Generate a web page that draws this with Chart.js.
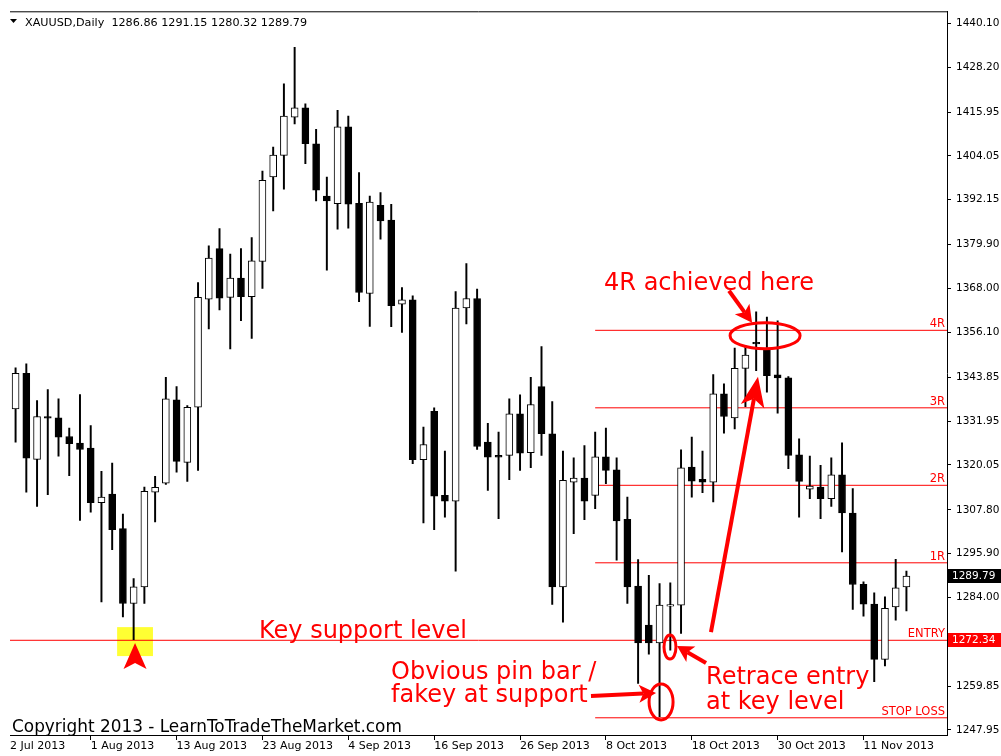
<!DOCTYPE html>
<html><head><meta charset="utf-8">
<script src="https://cdn.jsdelivr.net/npm/chart.js@4.4.1/dist/chart.umd.min.js"></script>
<style>html,body{margin:0;padding:0;background:#fff;}#wrap{width:1001px;height:756px;position:relative;}</style>
</head><body><div id="wrap"><canvas id="c"></canvas></div>
<script>
// ---------------- DATA ----------------
const symbolTitle = 'XAUUSD,Daily';
const lastOHLC = [1286.86, 1291.15, 1280.32, 1289.79];

const opens = [
1335.27,1344.93,1321.51,1333.18,1332.83,1327.75,1325.94,1324.58,1309.76,1312.10,
1302.70,1282.35,1286.86,1312.64,1315.08,1337.71,1320.70,1335.70,1365.12,1378.85,
1365.56,1370.82,1365.74,1375.32,1398.31,1404.20,1414.59,1417.11,1407.35,1393.15,
1391.06,1411.96,1391.17,1366.64,1390.63,1386.56,1363.76,1364.93,1321.43,1334.62,
1311.74,1310.19,1362.68,1365.28,1326.21,1322.60,1322.60,1333.91,1323.33,1341.32,
1328.49,1286.86,1315.35,1316.44,1311.74,1322.24,1318.71,1305.23,1287.05,1276.46,
1271.66,1281.62,1281.89,1319.42,1316.08,1315.35,1339.34,1332.83,1346.29,1353.34,
1351.69,1344.52,1343.68,1322.79,1313.45,1314.00,1310.85,1317.36,1306.94,1287.59,
1282.16,1267.16,1281.43,1286.86];
const highs = [
1346.40,1347.48,1337.52,1340.51,1337.98,1330.01,1339.15,1330.74,1318.25,1320.51,
1306.67,1289.14,1314.00,1316.90,1343.85,1341.32,1336.17,1369.63,1379.58,1384.28,
1377.33,1378.85,1381.84,1399.94,1406.45,1423.63,1433.59,1418.20,1411.25,1398.31,
1416.41,1414.86,1399.48,1393.15,1394.05,1390.90,1368.27,1366.02,1330.28,1335.54,
1323.76,1367.18,1374.78,1367.83,1331.36,1328.92,1337.98,1339.07,1343.85,1352.18,
1337.25,1323.76,1321.97,1325.31,1328.92,1330.06,1321.97,1311.28,1294.29,1290.03,
1287.78,1287.94,1324.14,1327.56,1323.76,1344.58,1342.05,1351.82,1352.45,1361.67,
1360.23,1359.23,1344.03,1327.13,1322.41,1319.88,1321.97,1326.04,1313.56,1288.22,
1285.23,1284.14,1294.37,1291.15];
const lows = [
1326.20,1312.64,1308.76,1311.93,1322.41,1317.09,1304.96,1307.21,1282.79,1297.01,
1278.72,1272.50,1282.35,1304.50,1314.73,1318.06,1315.54,1318.53,1356.98,1362.14,
1351.55,1359.23,1354.43,1368.00,1389.08,1394.97,1412.77,1401.92,1391.80,1372.99,
1384.12,1384.39,1364.39,1357.69,1381.40,1357.60,1356.06,1320.34,1304.22,1302.43,
1305.85,1291.12,1358.34,1324.22,1313.10,1305.42,1316.00,1318.53,1319.26,1322.60,
1282.08,1277.28,1301.35,1305.15,1308.13,1314.92,1294.10,1282.35,1260.64,1268.59,
1251.58,1269.68,1274.21,1311.28,1312.47,1309.93,1328.65,1329.84,1335.89,1345.66,
1339.77,1334.07,1318.99,1305.85,1310.85,1305.42,1308.76,1296.36,1280.72,1278.91,
1261.08,1265.34,1277.82,1280.32];
const closes = [
1344.93,1321.86,1333.18,1332.72,1327.56,1325.77,1324.22,1309.76,1311.28,1302.43,
1282.35,1286.86,1312.83,1313.91,1337.98,1320.97,1335.70,1365.56,1376.25,1365.39,
1370.82,1365.74,1375.51,1397.41,1404.28,1414.86,1417.11,1407.35,1394.70,1391.80,
1411.96,1390.90,1366.91,1391.52,1386.37,1363.30,1364.93,1321.43,1325.58,1311.55,
1310.19,1362.68,1365.28,1325.04,1322.14,1322.14,1333.91,1323.22,1336.44,1328.49,
1286.86,1315.81,1316.44,1310.19,1322.24,1318.53,1304.77,1286.86,1271.66,1271.66,
1281.89,1282.03,1319.26,1315.62,1315.35,1339.34,1333.18,1346.29,1349.92,1352.91,
1344.31,1343.68,1322.60,1315.54,1314.27,1310.85,1317.36,1306.94,1287.51,1282.16,
1267.16,1281.00,1286.59,1289.79];

const firstDateLabel = '2 Jul 2013';
const dateTickIndex = [7,15,23,31,39,47,55,63,71,79];
const dateTickLabels = ['1 Aug 2013','13 Aug 2013','23 Aug 2013','4 Sep 2013','16 Sep 2013',
  '26 Sep 2013','8 Oct 2013','18 Oct 2013','30 Oct 2013','11 Nov 2013'];
const priceTicks = [1440.10,1428.20,1415.95,1404.05,1392.15,1379.90,1368.00,1356.10,
  1343.85,1331.95,1320.05,1307.80,1295.90,1284.00,1259.85,1247.95];

const levelNames = ['4R','3R','2R','1R','ENTRY','STOP LOSS'];
const levelPrices = [1356.62,1335.55,1314.48,1293.41,1272.34,1251.27];
const entryPrice = 1272.34;
const rLevelStartIndex = 54;

// ---------------- CHART ----------------
Chart.defaults.font.family = "'DejaVu Sans', sans-serif";
const X_MIN = -0.52, X_MAX = 86.78;
const Y_MIN = 1246.59, Y_MAX = 1443.36;
const RED = '#ff0000';

const idx = opens.map((_, i) => i);
const wickData = idx.map(i => ({x: i, y: [lows[i], highs[i]]}));
const bodyData = idx.map(i => ({x: i, y: [opens[i], closes[i]]}));
const isBull = i => closes[i] >= opens[i];

const levelDatasets = levelNames.map((name, k) => ({
  type: 'line',
  data: [{x: levelPrices[k] === entryPrice ? X_MIN : rLevelStartIndex, y: levelPrices[k]}, {x: X_MAX, y: levelPrices[k]}],
  borderColor: RED, borderWidth: 1, pointRadius: 0, order: 3, clip: 0
}));

function arrow(ctx, x1, y1, x2, y2, lw, hl, hw) {
  const a = Math.atan2(y2 - y1, x2 - x1), c = Math.cos(a), s = Math.sin(a);
  const bx = x2 - c * hl, by = y2 - s * hl;
  const nx = x2 - c * hl * 0.75, ny = y2 - s * hl * 0.75;
  ctx.beginPath(); ctx.moveTo(x1, y1); ctx.lineTo(nx, ny); ctx.lineWidth = lw; ctx.stroke();
  ctx.beginPath(); ctx.moveTo(x2, y2);
  ctx.lineTo(bx - s * hw, by + c * hw); ctx.lineTo(nx, ny); ctx.lineTo(bx + s * hw, by - c * hw);
  ctx.closePath(); ctx.fill();
}

const notes = {
  texts: [
    ['4R achieved here', 54.83, 1367.64], ['Key support level', 22.68, 1272.94],
    ['Obvious pin bar /', 34.98, 1261.81], ['fakey at support', 34.98, 1255.57],
    ['Retrace entry', 64.33, 1260.45], ['at key level', 64.33, 1253.66]
  ],
  ellipses: [[69.83, 1355.16, 35, 13], [60.97, 1270.49, 6, 12], [60.14, 1255.57, 12, 18]],
  arrows: [
    [66.47, 1367.37, 68.62, 1358.69, 4, 17, 9],
    [64.79, 1274.56, 69.17, 1344.0, 4, 30, 12],
    [64.33, 1266.15, 61.63, 1270.76, 4, 16, 9],
    [53.61, 1257.20, 59.67, 1258.01, 4, 17, 9]
  ]
};

const deco = {
  id: 'deco',
  beforeDatasetsDraw(chart) {
    const {ctx, scales: {x, y}} = chart;
    ctx.save();
    ctx.fillStyle = '#ffff33';
    const x0 = x.getPixelForValue(9.46), x1 = x.getPixelForValue(12.8);
    const y0 = y.getPixelForValue(1275.92), y1 = y.getPixelForValue(1268.05);
    ctx.fillRect(x0, y0, x1 - x0, y1 - y0);
    ctx.restore();
  },
  afterDraw(chart) {
    const {ctx, chartArea: ca, scales: {x, y}} = chart;
    ctx.save();
    // top frame line
    ctx.strokeStyle = '#000'; ctx.lineWidth = 1;
    ctx.beginPath(); ctx.moveTo(ca.left, ca.top + 0.5); ctx.lineTo(ca.right, ca.top + 0.5); ctx.stroke();
    // header
    ctx.fillStyle = '#000';
    ctx.beginPath(); ctx.moveTo(10, 19); ctx.lineTo(17, 19); ctx.lineTo(13.5, 23); ctx.closePath(); ctx.fill();
    ctx.font = "11.2px 'DejaVu Sans'"; ctx.textBaseline = 'alphabetic'; ctx.textAlign = 'left';
    ctx.fillText(symbolTitle + '  ' + lastOHLC.map(v => v.toFixed(2)).join(' '), 25, 26);
    // level labels
    ctx.fillStyle = RED; ctx.font = "11.5px 'DejaVu Sans'"; ctx.textAlign = 'right';
    levelNames.forEach((n, k) => ctx.fillText(n, ca.right - 2, y.getPixelForValue(levelPrices[k]) - 3));
    // price boxes
    const box = (v, bg) => {
      const py = Math.round(y.getPixelForValue(v));
      ctx.fillStyle = bg; ctx.fillRect(ca.right + 1, py - 7, 1001 - ca.right - 1, 14);
      ctx.fillStyle = '#fff'; ctx.font = "10.5px 'DejaVu Sans'"; ctx.textAlign = 'left'; ctx.textBaseline = 'middle';
      ctx.fillText(v.toFixed(2), ca.right + 5, py + 0.5);
    };
    box(lastOHLC[3], '#000');
    box(entryPrice, RED);
    ctx.textBaseline = 'alphabetic';
    // red annotation texts
    ctx.fillStyle = RED; ctx.font = "24px 'DejaVu Sans'"; ctx.textAlign = 'left';
    notes.texts.forEach(([t, i, p]) => ctx.fillText(t, x.getPixelForValue(i), y.getPixelForValue(p)));
    // ellipses
    ctx.strokeStyle = RED; ctx.lineWidth = 3;
    notes.ellipses.forEach(([i, p, rx, ry]) => {
      ctx.beginPath(); ctx.ellipse(x.getPixelForValue(i), y.getPixelForValue(p), rx, ry, 0, 0, Math.PI * 2); ctx.stroke();
    });
    // arrows
    ctx.fillStyle = RED; ctx.lineCap = 'butt';
    notes.arrows.forEach(([i1, p1, i2, p2, lw, hl, hw]) =>
      arrow(ctx, x.getPixelForValue(i1), y.getPixelForValue(p1), x.getPixelForValue(i2), y.getPixelForValue(p2), lw, hl, hw));
    // up marker under support pin bar
    const ax = x.getPixelForValue(11.13), ay = y.getPixelForValue(1271.58), by = y.getPixelForValue(1264.53);
    ctx.beginPath(); ctx.moveTo(ax, ay); ctx.lineTo(ax + 11.5, by); ctx.lineTo(ax, by - 6); ctx.lineTo(ax - 11.5, by); ctx.closePath(); ctx.fill();
    // copyright
    ctx.fillStyle = '#000'; ctx.font = "16.9px 'DejaVu Sans'";
    ctx.fillText('Copyright 2013 - LearnToTradeTheMarket.com', ca.left + 2, ca.bottom - 3);
    ctx.restore();
  }
};

new Chart(document.getElementById('c'), {
  type: 'bar',
  data: {
    datasets: [
      { type: 'bar', data: bodyData, backgroundColor: c => isBull(c.dataIndex) ? '#ffffff' : '#000000',
        borderColor: '#000', borderWidth: 1, borderSkipped: false, barThickness: 7, grouped: false, order: 1 },
      { type: 'bar', data: wickData, backgroundColor: '#000', borderWidth: 0, barThickness: 1.3, grouped: false, order: 2 },
      ...levelDatasets
    ]
  },
  options: {
    responsive: true, maintainAspectRatio: false, animation: false,
    layout: {padding: {left: 10, top: 10, right: 0, bottom: 0}},
    plugins: {legend: {display: false}, tooltip: {enabled: false}},
    scales: {
      x: {
        type: 'linear', min: X_MIN, max: X_MAX, offset: false, bounds: 'data', position: 'bottom',
        grid: {drawOnChartArea: false, offset: false, drawTicks: true, tickLength: 5,
          tickColor: c => c.index === 0 ? 'rgba(0,0,0,0)' : '#000'},
        border: {display: true, color: '#000', width: 1},
        ticks: {autoSkip: false, maxRotation: 0, minRotation: 0, align: 'start', padding: 0, color: '#000',
          font: {size: 11}, callback: (v, i) => i === 0 ? firstDateLabel : dateTickLabels[i - 1]},
        afterBuildTicks: s => { s.ticks = [{value: X_MIN}].concat(dateTickIndex.map(v => ({value: v}))); },
        afterFit: s => { s.height = 21; }
      },
      y: {
        type: 'linear', position: 'right', min: Y_MIN, max: Y_MAX, bounds: 'data',
        grid: {drawOnChartArea: false, drawTicks: true, tickLength: 4, tickColor: '#000'},
        border: {display: true, color: '#000', width: 1},
        ticks: {color: '#000', padding: 5, font: {size: 10.5}, callback: v => Number(v).toFixed(2)},
        afterBuildTicks: s => { s.ticks = priceTicks.map(v => ({value: v})); },
        afterFit: s => { s.width = 54; }
      }
    }
  },
  plugins: [deco]
});
</script>
</body></html>
